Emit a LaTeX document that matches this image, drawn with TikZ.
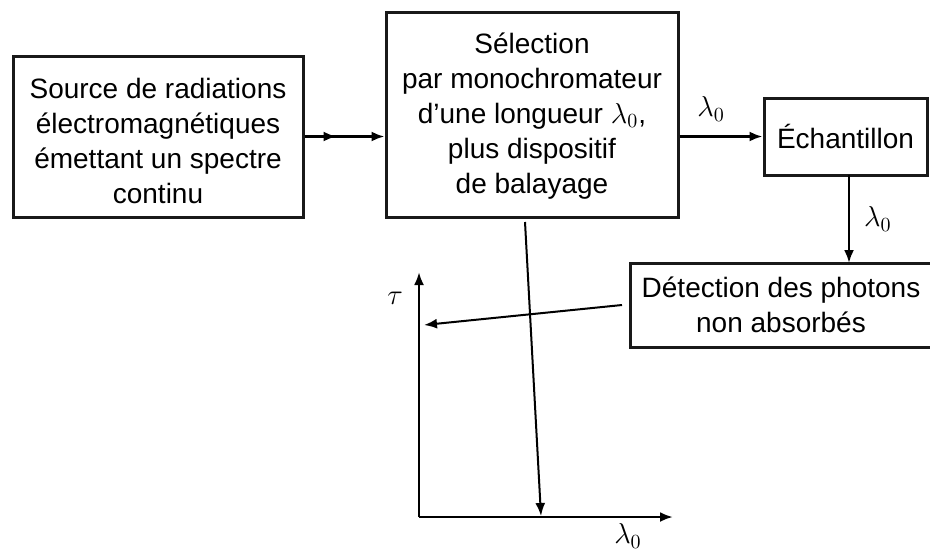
\documentclass[tikz,border=0pt]{standalone}
\usepackage{fontspec}
\setmainfont{Liberation Sans}
\usetikzlibrary{arrows.meta,decorations.markings}
\begin{document}
\begin{tikzpicture}[x=0.5pt,y=-0.5pt,
  box/.style={draw=black!90,line width=1.5pt,align=center,inner sep=0pt,
    font=\fontsize{14}{17.5}\selectfont},
  txt/.style={inner sep=0pt,font=\fontsize{14}{17.5}\selectfont},
  arr/.style={line width=1.2pt,-{Latex[length=6.5pt,width=5pt]}},
  thin arr/.style={line width=1pt,-{Latex[length=6.5pt,width=5pt]}},
  midarr/.style={postaction={decorate},decoration={markings,
    mark=at position 0.4 with {\arrow{Latex[length=6.5pt,width=5pt]}}}}]
\useasboundingbox (0,0) rectangle (930,553);
\node[box,minimum width=145pt,minimum height=80.5pt] (src) at (158,136.5)
  {\rule{0pt}{15pt}Source de radiations\\électromagnétiques\\émettant un spectre\\continu};
\node[box,minimum width=146pt,minimum height=102.5pt] (sel) at (532,114.5)
  {\rule{0pt}{12pt}Sélection\\par monochromateur\\d'une longueur $\lambda_0$,\\plus dispositif\\de balayage};
\node[box,minimum width=81.5pt,minimum height=38.5pt] (ech) at (845.5,136.5) {Échantillon};
\node[box,minimum width=151pt,minimum height=42pt] (det) at (781,305)
  {Détection des photons\\non absorbés};
\draw[arr,midarr] (src.east) -- (src.east -| sel.west);
\draw[arr] (sel.east |- ech.west) -- (ech.west) node[txt,pos=0.38,above=7pt] (l1) {$\lambda_0$};
\coordinate (ea) at (849,175);
\coordinate (eb) at (849,263);
\draw[arr] (ea) -- (eb) node[txt,midway,right=7pt] (l2) {$\lambda_0$};
% axes
\coordinate (O) at (419,517);
\coordinate (ytop) at (419,272);
\coordinate (xend) at (673,517);
\draw[line width=1.3pt,-{Latex[length=6.5pt,width=5pt]}] (O) -- (ytop);
\draw[line width=1.3pt,-{Latex[length=6.5pt,width=5pt]}] (O) -- (xend);
\node[txt] (tau) at (395,298) {$\tau$};
\node[txt] (lx) at (628,536) {$\lambda_0$};
% scanning lines
\coordinate (p1) at (525,222);
\coordinate (p2) at (541,516);
\coordinate (q1) at (622,305);
\coordinate (q2) at (424,325);
\draw[thin arr] (p1) -- (p2);
\draw[thin arr] (q1) -- (q2);
\end{tikzpicture}
\end{document}
